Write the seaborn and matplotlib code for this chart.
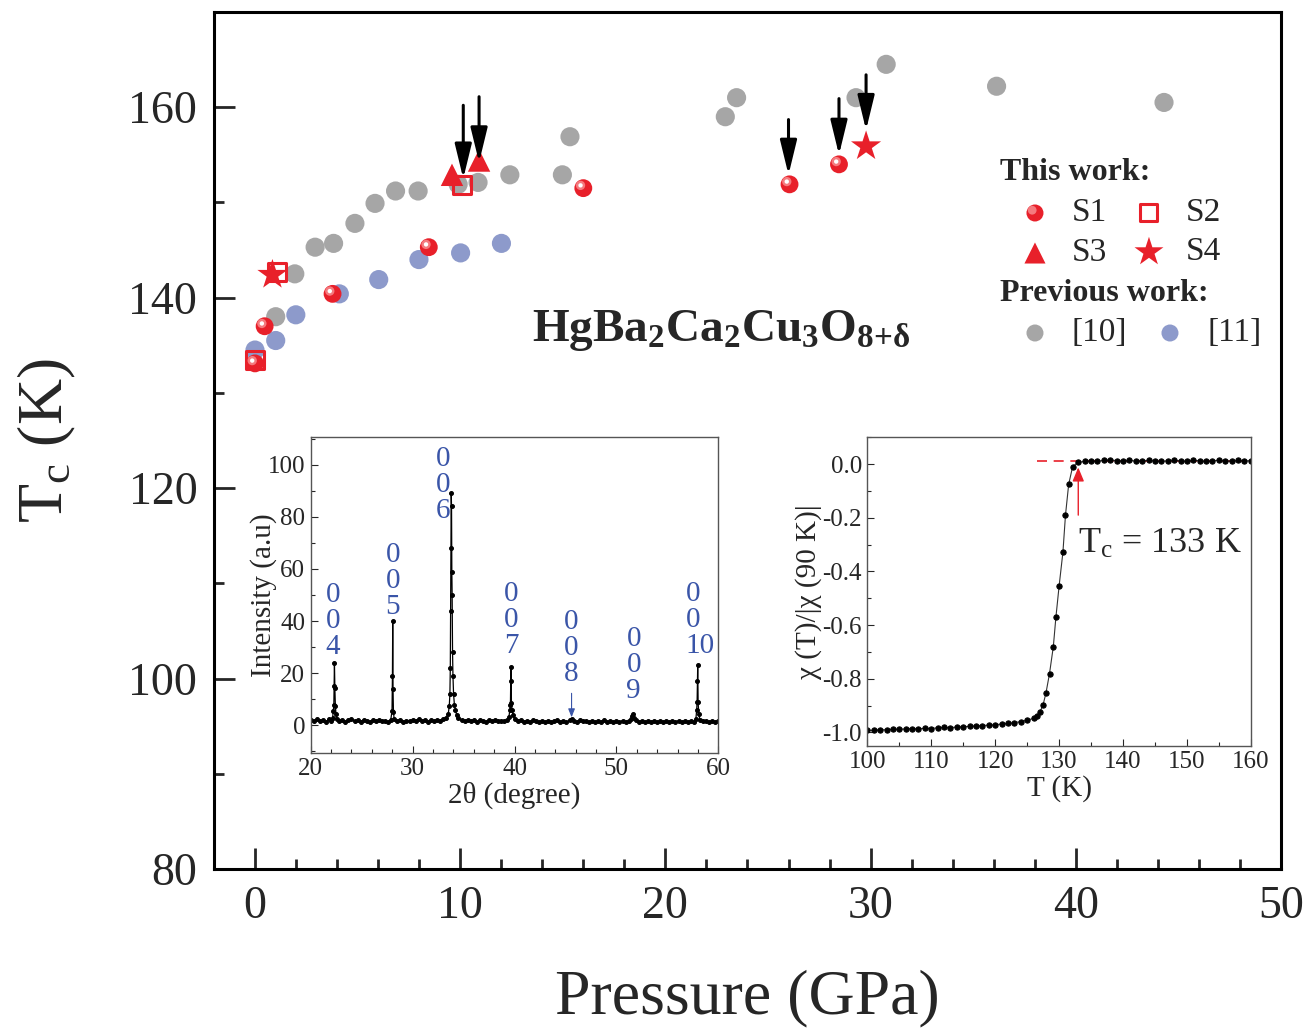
import matplotlib
matplotlib.use("Agg")
import matplotlib.pyplot as plt
import matplotlib.transforms as mtransforms
from matplotlib.ticker import MultipleLocator
import seaborn as sns

##### main panel data: pressure (GPa) vs Tc (K) #####
s1_p = [0.0, 0.47, 3.78, 8.47, 16.0, 26.05, 28.46]
s1_tc = [133.1, 137.0, 140.4, 145.3, 151.5, 151.9, 154.0]
s2_p = [0.0, 1.09, 10.09]
s2_tc = [133.5, 142.7, 151.8]
s3_p = [9.6, 10.92]
s3_tc = [152.9, 154.4]
s4_p = [0.85, 29.78]
s4_tc = [142.4, 155.9]
ref10_p = [1.01, 1.94, 2.93, 3.83, 4.87, 5.85, 6.85, 7.95, 9.9, 10.87,
           12.42, 14.98, 15.35, 22.92, 23.47, 29.29, 30.76, 36.14, 44.3]
ref10_tc = [138.0, 142.5, 145.3, 145.7, 147.8, 149.9, 151.2, 151.2, 151.9, 152.1,
            152.9, 152.9, 156.9, 159.0, 161.0, 161.0, 164.5, 162.2, 160.5]
ref11_p = [0.0, 1.01, 1.99, 4.11, 6.03, 7.99, 10.02, 12.01]
ref11_tc = [134.5, 135.5, 138.2, 140.4, 141.9, 144.0, 144.7, 145.7]

# arrows marking the highest-pressure points
arrow_p = [10.15, 10.92, 26.0, 28.46, 29.78]
arrow_top = [160.2, 161.1, 158.7, 160.9, 163.4]
arrow_tip = [152.5, 154.2, 152.9, 155.0, 157.6]

##### inset 1: XRD pattern #####
xrd_2theta = [20.0, 20.3, 20.6, 20.9, 21.2, 21.5, 21.8, 22.0,
              22.15, 22.22, 22.27, 22.30, 22.33, 22.37, 22.42, 22.48, 22.58,
              22.8, 23.1, 23.4, 23.7, 24.0, 24.3, 24.6, 24.9, 25.2, 25.5, 25.8,
              26.1, 26.4, 26.7, 27.0, 27.3, 27.6, 27.85,
              27.98, 28.02, 28.05, 28.08, 28.12, 28.2,
              28.5, 28.8, 29.1, 29.4, 29.7, 30.0, 30.3, 30.6, 30.9, 31.2, 31.5,
              31.8, 32.1, 32.4, 32.7, 33.0, 33.3, 33.5,
              33.6, 33.66, 33.70, 33.73, 33.76, 33.79, 33.82, 33.85, 33.88, 33.92,
              33.96, 34.02, 34.10, 34.2, 34.32, 34.5,
              34.8, 35.1, 35.4, 35.7, 36.0, 36.3, 36.6, 36.9, 37.2, 37.5, 37.8,
              38.1, 38.4, 38.7, 39.0, 39.3, 39.45,
              39.55, 39.60, 39.63, 39.66, 39.70, 39.76, 39.85, 40.0,
              40.3, 40.6, 40.9, 41.2, 41.5, 41.8, 42.1, 42.4, 42.7, 43.0, 43.3,
              43.6, 43.9, 44.2, 44.5, 44.8, 45.1, 45.4, 45.6, 45.8, 46.1, 46.4,
              46.7, 47.0, 47.3, 47.6, 47.9, 48.2, 48.5, 48.8, 49.1, 49.4, 49.7,
              50.0, 50.3, 50.6, 50.9, 51.2, 51.45,
              51.55, 51.65, 51.75, 51.9,
              52.2, 52.5, 52.8, 53.1, 53.4, 53.7, 54.0, 54.3, 54.6, 54.9, 55.2,
              55.5, 55.8, 56.1, 56.4, 56.7, 57.0, 57.3, 57.6, 57.8,
              57.88, 57.92, 57.95, 57.98, 58.02, 58.08, 58.2,
              58.5, 58.8, 59.1, 59.4, 59.7, 60.0]
xrd_int = [2.2, 1.6, 2.4, 1.5, 2.0, 1.3, 2.3, 1.8,
           3.0, 5.5, 8.0, 15.0, 24.0, 14.5, 7.5, 4.5, 2.6,
           1.7, 2.1, 1.4, 2.0, 2.4, 1.6, 1.9, 1.3, 2.2, 1.7, 1.4,
           1.9, 1.5, 2.0, 1.6, 1.8, 1.3, 2.0,
           5.5, 19.0, 40.0, 14.0, 5.0, 2.3,
           1.6, 2.0, 1.4, 1.8, 1.5, 2.1, 1.7, 2.4, 1.5, 1.9, 1.4,
           2.0, 1.6, 2.2, 1.8, 2.3, 3.0, 4.5,
           7.5, 12.0, 22.0, 44.0, 68.0, 89.0, 84.0, 59.0, 50.0, 28.0,
           19.0, 12.0, 8.0, 6.0, 4.0, 2.8,
           2.0, 1.6, 2.2, 1.5, 1.9, 1.4, 2.0, 1.6, 1.3, 1.9, 1.5,
           2.0, 1.6, 1.8, 1.5, 2.2, 3.2,
           6.0, 8.0, 17.0, 22.5, 8.5, 6.0, 4.0, 2.6,
           1.7, 2.0, 1.4, 1.8, 1.3, 1.9, 1.5, 1.2, 1.7, 1.3, 1.8,
           1.2, 1.6, 1.9, 1.4, 1.7, 1.3, 1.9, 2.6, 1.8, 1.4, 2.0,
           1.5, 1.8, 1.3, 1.7, 1.2, 1.6, 1.4, 1.9, 1.3, 1.6, 1.2,
           1.7, 1.4, 1.8, 1.3, 1.7, 2.4,
           3.5, 4.2, 3.0, 2.0,
           1.4, 1.7, 1.2, 1.6, 1.3, 1.8, 1.2, 1.5, 1.3, 1.7, 1.2,
           1.6, 1.4, 1.8, 1.3, 1.6, 1.2, 1.7, 1.4, 2.4,
           6.0, 9.0, 17.0, 23.0, 9.0, 4.5, 2.2,
           1.5, 1.8, 1.3, 1.6, 1.2, 1.5]
hkl_labels = ["0\n0\n4", "0\n0\n5", "0\n0\n6", "0\n0\n7", "0\n0\n8", "0\n0\n9", "0\n0\n10"]
hkl_x = [22.2, 28.05, 33.0, 39.66, 45.6, 51.7, 58.2]
hkl_y = [25.0, 40.5, 77.4, 25.6, 14.7, 8.3, 25.6]

##### inset 2: normalized susceptibility #####
chi_t = [100, 101, 102, 103, 104, 105, 106, 107, 108, 109, 110, 111, 112, 113,
         114, 115, 116, 117, 118, 119, 120, 121, 122, 123, 124, 125, 126,
         126.6, 127.0, 127.5, 127.95, 128.5, 129.1, 129.5, 130.0, 130.6, 131.0,
         131.5, 132.1, 132.9,
         134, 135, 136, 137, 138, 139, 140, 141, 142, 143, 144, 145, 146, 147,
         148, 149, 150, 151, 152, 153, 154, 155, 156, 157, 158, 159, 160]
chi_val = [-0.992, -0.993, -0.990, -0.991, -0.988, -0.989, -0.987, -0.986, -0.987,
           -0.985, -0.986, -0.983, -0.982, -0.983, -0.980, -0.979, -0.978, -0.976,
           -0.975, -0.973, -0.972, -0.969, -0.967, -0.964, -0.960, -0.955, -0.948,
           -0.940, -0.925, -0.897, -0.853, -0.781, -0.680, -0.571, -0.455, -0.328,
           -0.190, -0.075, -0.011, 0.007,
           0.010, 0.012, 0.011, 0.014, 0.016, 0.013, 0.012, 0.015, 0.011, 0.013,
           0.014, 0.012, 0.010, 0.013, 0.015, 0.012, 0.011, 0.014, 0.013, 0.010,
           0.012, 0.015, 0.013, 0.011, 0.014, 0.012, 0.013]

RED = "#E8202A"
GRAY = "#A6A6A6"
BLUE = "#8D9ACB"
HKL_BLUE = "#3A55A8"


def main():
    sns.set_theme(style="ticks")
    plt.rcParams["font.family"] = ["Liberation Serif", "DejaVu Serif"]
    plt.rcParams["mathtext.fontset"] = "custom"
    plt.rcParams["mathtext.rm"] = "Liberation Serif"
    plt.rcParams["mathtext.it"] = "Liberation Serif:italic"
    plt.rcParams["mathtext.bf"] = "Liberation Serif:bold"
    plt.rcParams["axes.unicode_minus"] = False

    fig = plt.figure(figsize=(13.11, 10.32), dpi=100)
    ax = fig.add_axes([0.1632, 0.1579, 0.8139, 0.8305])

    # previous work
    sns.scatterplot(x=ref10_p, y=ref10_tc, ax=ax, color=GRAY, s=190,
                    edgecolor="none", zorder=2)
    sns.scatterplot(x=ref11_p, y=ref11_tc, ax=ax, color=BLUE, s=190,
                    edgecolor="none", zorder=2)

    # this work
    sns.scatterplot(x=s4_p, y=s4_tc, ax=ax, color=RED, marker="*", s=520,
                    edgecolor="none", zorder=3)
    sns.scatterplot(x=s3_p, y=s3_tc, ax=ax, color=RED, marker="^", s=260,
                    edgecolor="none", zorder=3)
    sns.scatterplot(x=s2_p, y=s2_tc, ax=ax, color=RED, marker="s", s=170,
                    facecolor="none", edgecolor=RED, linewidth=2.2, zorder=4)
    sns.scatterplot(x=s1_p, y=s1_tc, ax=ax, color=RED, s=165,
                    edgecolor="none", zorder=5)
    # highlight on the spheres
    hl = ax.transData + mtransforms.ScaledTranslation(-2 / 72, 2 / 72, fig.dpi_scale_trans)
    sns.scatterplot(x=s1_p, y=s1_tc, ax=ax, color="#F57A7E", s=45,
                    edgecolor="none", zorder=6, transform=hl)
    sns.scatterplot(x=s1_p, y=s1_tc, ax=ax, color="white", s=10,
                    edgecolor="none", zorder=7, transform=hl)

    for p, top, tip in zip(arrow_p, arrow_top, arrow_tip):
        ax.annotate("", xy=(p, tip), xytext=(p, top),
                    arrowprops=dict(arrowstyle="-|>,head_length=0.7,head_width=0.17",
                                    mutation_scale=30, color="black", lw=2.2,
                                    shrinkA=0, shrinkB=0), zorder=8)

    ax.text(22.7, 136.6, r"$\mathbf{HgBa_2Ca_2Cu_3O_{8{+}\delta}}$", fontsize=34,
            ha="center", va="center")

    ax.set_xlim(-2, 50)
    ax.set_ylim(80, 170)
    ax.xaxis.set_major_locator(MultipleLocator(10))
    ax.xaxis.set_minor_locator(MultipleLocator(2))
    ax.yaxis.set_major_locator(MultipleLocator(20))
    ax.yaxis.set_minor_locator(MultipleLocator(10))
    ax.tick_params(which="both", direction="in", width=2, labelsize=33, pad=12)
    ax.tick_params(which="major", length=15)
    ax.tick_params(which="minor", length=7.5)
    for sp in ax.spines.values():
        sp.set_linewidth(2.2)
        sp.set_color("black")
    ax.set_xlabel("Pressure (GPa)", fontsize=46, labelpad=30)
    ax.set_ylabel(r"T$_\mathrm{c}$ (K)", fontsize=46, labelpad=36)

    # hand-built legend (axes fraction coords)
    tr = ax.transAxes
    fx = lambda px: (px - 214) / 1067
    fy = lambda py: (869 - py) / 857
    ax.text(fx(1000), fy(173), "This work:", transform=tr, fontsize=23,
            fontweight="bold", va="center", ha="left")
    ax.text(fx(1000), fy(294), "Previous work:", transform=tr, fontsize=23,
            fontweight="bold", va="center", ha="left")
    leg_items = [(1035, 213, "o", RED, 150, "S1"), (1149, 213, "s", "none", 150, "S2"),
                 (1035, 253, "^", RED, 230, "S3"), (1149, 252, "*", RED, 480, "S4"),
                 (1035, 333, "o", GRAY, 150, "[10]"), (1170, 333, "o", BLUE, 150, "[11]")]
    for px, py, mk, fc, sz, lab in leg_items:
        if fc == "none":
            ax.scatter(fx(px), fy(py), transform=tr, marker=mk, s=sz,
                       facecolor="none", edgecolor=RED, linewidth=2.2, clip_on=False)
        else:
            ax.scatter(fx(px), fy(py), transform=tr, marker=mk, s=sz,
                       color=fc, edgecolor="none", clip_on=False)
        if lab == "S1":
            ax.scatter(fx(px), fy(py), transform=tr + mtransforms.ScaledTranslation(
                -2 / 72, 2 / 72, fig.dpi_scale_trans), s=40, color="#F57A7E",
                edgecolor="none", clip_on=False)
        lx = px + 37 if lab != "[11]" else px + 38
        ax.text(fx(lx), fy(py), lab, transform=tr, fontsize=24, va="center", ha="left")

    # ---- inset 1: XRD ----
    ax1 = fig.add_axes([0.2370, 0.2706, 0.3109, 0.3056])
    sns.lineplot(x=xrd_2theta, y=xrd_int, ax=ax1, color="black", lw=0.9,
                 marker="o", markersize=2.8, markeredgecolor="black", sort=False)
    for lab, hx, hy in zip(hkl_labels, hkl_x, hkl_y):
        ax1.text(hx, hy, lab, color=HKL_BLUE, fontsize=21, ha="center", va="bottom",
                 multialignment="left", linespacing=1.0)
    ax1.annotate("", xy=(45.6, 3.1), xytext=(45.6, 12.3),
                 arrowprops=dict(arrowstyle="-|>,head_length=0.5,head_width=0.2",
                                 mutation_scale=10, color=HKL_BLUE, lw=0.8,
                                 shrinkA=0, shrinkB=0))
    ax1.set_xlim(20, 60)
    ax1.set_ylim(-10.5, 110.5)
    ax1.xaxis.set_major_locator(MultipleLocator(10))
    ax1.xaxis.set_minor_locator(MultipleLocator(2))
    ax1.yaxis.set_major_locator(MultipleLocator(20))
    ax1.yaxis.set_minor_locator(MultipleLocator(10))
    ax1.set_xlabel("2θ (degree)", fontsize=21, labelpad=1)
    ax1.set_ylabel("Intensity (a.u)", fontsize=21, labelpad=-7)

    # ---- inset 2: susceptibility ----
    ax2 = fig.add_axes([0.6616, 0.2774, 0.2925, 0.2988])
    sns.lineplot(x=chi_t, y=chi_val, ax=ax2, color="#333333", lw=0.8,
                 marker="o", markersize=3.8, markerfacecolor="black",
                 markeredgecolor="black", sort=False)
    ax2.plot([126.5, 160], [0.01, 0.01], color=RED, lw=1.2, ls=(0, (6, 4)), zorder=0)
    ax2.annotate("", xy=(133.0, -0.012), xytext=(133.0, -0.19),
                 arrowprops=dict(arrowstyle="-|>,head_length=0.6,head_width=0.25",
                                 mutation_scale=14, color=RED, lw=1.0,
                                 shrinkA=0, shrinkB=0))
    ax2.text(133.0, -0.30, r"T$_\mathrm{c}$ = 133 K", fontsize=26, ha="left", va="center")
    ax2.set_xlim(100, 160)
    ax2.set_ylim(-1.05, 0.1)
    ax2.xaxis.set_major_locator(MultipleLocator(10))
    ax2.xaxis.set_minor_locator(MultipleLocator(5))
    ax2.yaxis.set_major_locator(MultipleLocator(0.2))
    ax2.yaxis.set_minor_locator(MultipleLocator(0.1))
    ax2.yaxis.set_major_formatter(plt.FormatStrFormatter("%.1f"))
    ax2.set_xlabel("T (K)", fontsize=21, labelpad=1)
    ax2.set_ylabel("χ (T)/|χ (90 K)|", fontsize=21, labelpad=0)

    for a in (ax1, ax2):
        a.tick_params(which="both", direction="in", labelsize=18, pad=4, width=0.8)
        a.tick_params(which="major", length=5)
        a.tick_params(which="minor", length=3)
        for sp in a.spines.values():
            sp.set_linewidth(1.0)
            sp.set_color("#555555")

    fig.savefig("out.png", dpi=100)


if __name__ == "__main__":
    main()
